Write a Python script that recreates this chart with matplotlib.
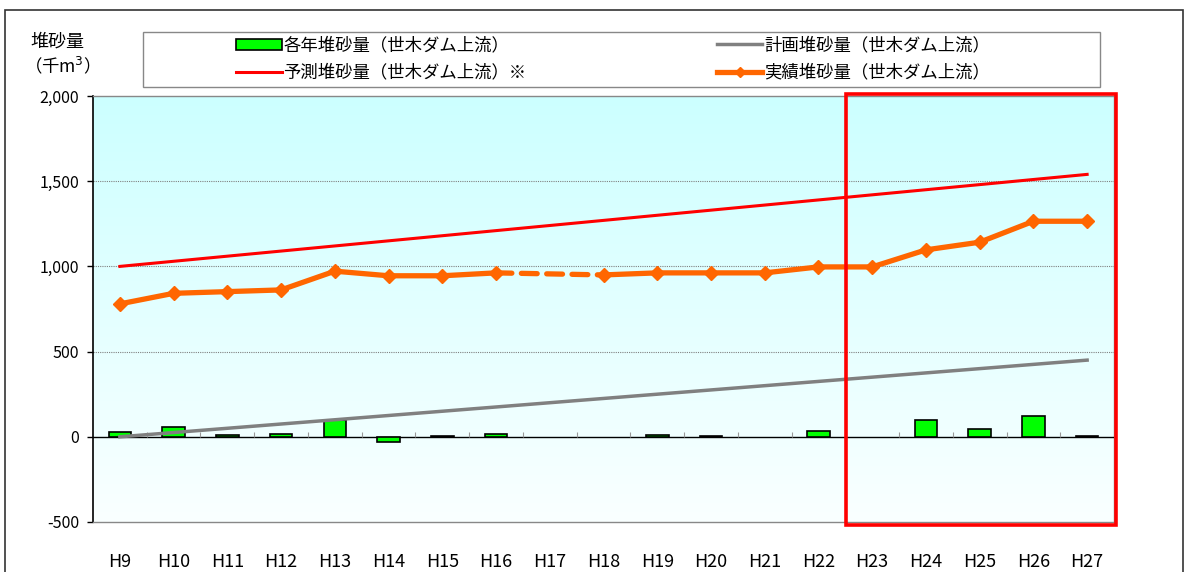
import numpy as np
import matplotlib
matplotlib.use("Agg")
import matplotlib.pyplot as plt
from matplotlib.lines import Line2D
from matplotlib.patches import Rectangle, Patch

plt.rcParams['font.family'] = ['Noto Sans CJK JP', 'DejaVu Sans']

# data
years = ['H9', 'H10', 'H11', 'H12', 'H13', 'H14', 'H15', 'H16', 'H17', 'H18',
         'H19', 'H20', 'H21', 'H22', 'H23', 'H24', 'H25', 'H26', 'H27']
annual = [30, 60, 10, 15, 100, -30, 5, 15, np.nan, np.nan,
          8, 3, np.nan, 35, np.nan, 100, 45, 125, 3]
plan = [0, 25, 50, 75, 100, 125, 150, 175, 200, 225,
        250, 275, 300, 325, 350, 375, 400, 425, 450]
forecast = [1000, 1030, 1060, 1090, 1120, 1150, 1180, 1210, 1240, 1270,
            1300, 1330, 1360, 1390, 1420, 1450, 1480, 1510, 1540]
actual = [780, 842, 852, 862, 972, 945, 945, 962, np.nan, 950,
          962, 962, 962, 997, 997, 1097, 1142, 1265, 1265]

W, H = 1188, 572
fig = plt.figure(figsize=(W / 100, H / 100), dpi=100)
ax = fig.add_axes([93 / W, 1 - 522 / H, (1114 - 93) / W, (522 - 96) / H])

x = np.arange(len(years))
ax.set_xlim(-0.5, len(years) - 0.5)
ax.set_ylim(-500, 2000)

# gradient background
grad = np.linspace(0, 1, 256).reshape(-1, 1)
top = np.array([204, 255, 255]) / 255
bot = np.array([250, 255, 255]) / 255
img = top * (1 - grad[..., None]) + bot * grad[..., None]
img = np.repeat(img, 2, axis=1)
ax.imshow(img, extent=[-0.5, len(years) - 0.5, -500, 2000], aspect='auto', zorder=0)

for yv in [500, 1000, 1500]:
    ax.axhline(yv, color='#808080', lw=0.8, ls=(0, (1, 1)), zorder=1)
ax.axhline(0, color='black', lw=1.0, zorder=3)
ax.vlines(x[:-1] + 0.5, 0, 28, color='#999999', lw=0.8, zorder=3)

ax.bar(x, annual, width=0.42, color='#00ff00', edgecolor='black', lw=1.2, zorder=4)
ax.plot(x, plan, color='#808080', lw=2.5, zorder=5)
ax.plot(x, forecast, color='#ff0000', lw=2.2, zorder=5)

act = np.array(actual, dtype=float)
ax.plot(x, act, color='#ff6600', lw=3.8, marker='D', ms=7, zorder=6)
gap = np.where(np.isnan(act))[0][0]
ax.plot([x[gap - 1], x[gap + 1]], [act[gap - 1], act[gap + 1]],
        color='#ff6600', lw=3.8, ls=(0, (3.0, 1.8)), dash_capstyle='round', zorder=6)

ax.set_xticks(x)
ax.set_xticklabels(years, fontsize=13)
ax.tick_params(axis='x', length=0, pad=22)
ax.set_yticks([-500, 0, 500, 1000, 1500, 2000])
ax.set_yticklabels(['-500', '0', '500', '1,000', '1,500', '2,000'], fontsize=11.5)
ax.tick_params(axis='y', length=4, width=1, pad=6)

for s in ['top', 'right', 'bottom']:
    ax.spines[s].set_color('#888888')
    ax.spines[s].set_linewidth(1.0)
ax.spines['left'].set_color('black')
ax.spines['left'].set_linewidth(1.2)

fig.text(57 / W, 1 - 42 / H, '堆砂量', ha='center', va='center', fontsize=13)
fig.text(57 / W, 1 - 66 / H, '（千m$^3$）', ha='center', va='center', fontsize=12.5)

# outer frame
fig.patches.append(Rectangle((5 / W, -0.1), (1183 - 5) / W, 1.1 - 10 / H,
                             transform=fig.transFigure, fill=False,
                             edgecolor='#333333', lw=1.2))
# highlight box
fig.patches.append(Rectangle((846 / W, 1 - 525 / H), (1116 - 846) / W, (525 - 94) / H,
                             transform=fig.transFigure, fill=False,
                             edgecolor='#ff0000', lw=2.6, zorder=10))

# legend frame
fig.patches.append(Rectangle((143 / W, 1 - 87 / H), (1100 - 143) / W, (87 - 32) / H,
                             transform=fig.transFigure, fill=False,
                             edgecolor='#888888', lw=1.0))
handles = [Patch(facecolor='#00ff00', edgecolor='black', lw=1.2),
           Line2D([], [], color='#ff0000', lw=2.2),
           Line2D([], [], color='#808080', lw=2.5),
           Line2D([], [], color='#ff6600', lw=3.8, marker='D', ms=5)]
labels = ['各年堆砂量（世木ダム上流）', '予測堆砂量（世木ダム上流）※',
          '計画堆砂量（世木ダム上流）', '実績堆砂量（世木ダム上流）']
fig.legend(handles, labels, ncol=2, loc='center', frameon=False,
           bbox_to_anchor=((143 + 1100) / 2 / W - 0.007, 1 - 59 / H),
           fontsize=12.5, handlelength=2.6, handleheight=0.6, handletextpad=0.1,
           columnspacing=11.0, labelspacing=0.55)

fig.savefig('out.png', dpi=100)
